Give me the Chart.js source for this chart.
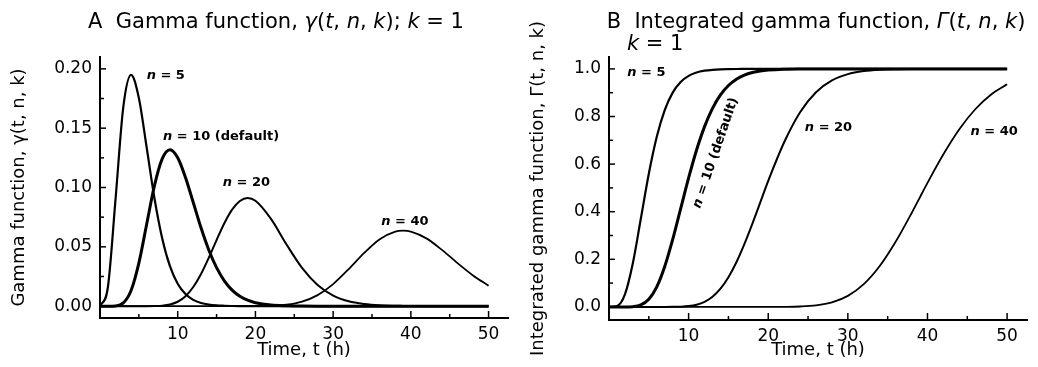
<!DOCTYPE html>
<html>
<head>
<meta charset="utf-8">
<script src="https://cdn.jsdelivr.net/npm/chart.js@4.4.1/dist/chart.umd.min.js"></script>
<style>
  body { margin: 0; background: #fff; }
  #wrap { display: flex; width: 1038px; height: 367px; }
  canvas { display: block; }
</style>
</head>
<body>
<div id="wrap">
  <canvas id="chartA" width="519" height="367"></canvas>
  <canvas id="chartB" width="519" height="367"></canvas>
</div>
<script>
// ---- DATA ----
const tValues = [0, 1, 2, 3, 4, 5, 6, 7, 8, 9, 10, 11, 12, 13, 14, 15, 16, 17, 18, 19, 20,
                 22, 24, 26, 28, 30, 32, 34, 36, 38, 39, 40, 42, 44, 46, 48, 50];

// panel A: gamma function, k = 1
const gammaN5 = [0, 0.0153, 0.0902, 0.168, 0.195, 0.1755, 0.1339, 0.0912, 0.0573, 0.0337, 0.0189,
                 0.0102, 0.0053, 0.0027, 0.0013, 0.0006, 0.0003, 0.0001, 0, 0, 0,
                 0, 0, 0, 0, 0, 0, 0, 0, 0, 0, 0, 0, 0, 0, 0, 0];
const gammaN10 = [0, 0, 0.0002, 0.0027, 0.0132, 0.0363, 0.0688, 0.1014, 0.1241, 0.1318, 0.1251,
                  0.1085, 0.0874, 0.066, 0.0473, 0.0324, 0.0213, 0.0135, 0.0083, 0.005, 0.0029,
                  0.0009, 0.0003, 0.0001, 0, 0, 0, 0, 0, 0, 0, 0, 0, 0, 0, 0, 0];
const gammaN20 = [0, 0, 0, 0, 0, 0, 0, 0.0001, 0.0004, 0.0014, 0.0037,
                  0.0084, 0.0161, 0.0271, 0.0408, 0.0557, 0.0699, 0.0813, 0.0886, 0.0911, 0.0888,
                  0.0735, 0.052, 0.0322, 0.0178, 0.0089, 0.0041, 0.0018, 0.0007, 0.0003, 0.0002, 0.0001,
                  0, 0, 0, 0, 0];
const gammaN40 = [0, 0, 0, 0, 0, 0, 0, 0, 0, 0, 0, 0, 0, 0, 0, 0, 0, 0, 0, 0, 0.0001,
                  0.0003, 0.0012, 0.0038, 0.0093, 0.0186, 0.0312, 0.0449, 0.0564, 0.0629, 0.0636, 0.0629,
                  0.0571, 0.0474, 0.0363, 0.0259, 0.0172];

// panel B: integrated gamma function, k = 1
const cumN5 = [0, 0.0037, 0.0527, 0.1847, 0.3712, 0.5595, 0.7149, 0.827, 0.9004, 0.945, 0.9707,
               0.9849, 0.9924, 0.9963, 0.9982, 0.9991, 0.9996, 0.9998, 1, 1, 1,
               1, 1, 1, 1, 1, 1, 1, 1, 1, 1, 1, 1, 1, 1, 1, 1];
const cumN10 = [0, 0, 0, 0.0011, 0.0081, 0.0318, 0.0839, 0.1695, 0.2834, 0.4126, 0.5421,
                0.6595, 0.7576, 0.8342, 0.8906, 0.9301, 0.9567, 0.9739, 0.9846, 0.9912, 0.995,
                0.9985, 0.9996, 0.9999, 1, 1, 1, 1, 1, 1, 1, 1, 1, 1, 1, 1, 1];
const cumN20 = [0, 0, 0, 0, 0, 0, 0, 0, 0.0003, 0.0011, 0.0035,
                0.0093, 0.0213, 0.0427, 0.0765, 0.1248, 0.1878, 0.2637, 0.3491, 0.4394, 0.5297,
                0.6917, 0.818, 0.9018, 0.9513, 0.9782, 0.9909, 0.9965, 0.9987, 0.9996, 0.9998, 0.9999,
                1, 1, 1, 1, 1];
const cumN40 = [0, 0, 0, 0, 0, 0, 0, 0, 0, 0, 0, 0, 0, 0, 0, 0, 0, 0, 0, 0, 0.0001,
                0.0004, 0.0018, 0.0065, 0.019, 0.0463, 0.0954, 0.1716, 0.2736, 0.3936, 0.4574, 0.521,
                0.6413, 0.7465, 0.8304, 0.8925, 0.9352];

// ---- TICKS ----
const xMajorTicks = [10, 20, 30, 40, 50];
const xMinorTicks = [5, 15, 25, 35, 45];
const gammaTicks = [0, 0.05, 0.10, 0.15, 0.20];
const gammaMinorTicks = [0.025, 0.075, 0.125, 0.175];
const cumTicks = [0, 0.2, 0.4, 0.6, 0.8, 1.0];
const cumMinorTicks = [0.1, 0.3, 0.5, 0.7, 0.9];

const FONT = "'DejaVu Sans', sans-serif";
Chart.defaults.color = "#000";
Chart.defaults.font.family = FONT;

function pts(ys) {
    return tValues.map((t, i) => ({ x: t, y: ys[i] }));
}

// text with italic pieces, parts = [[text, italic], ...]
function drawRich(ctx, parts, x, y, size, align, weight) {
    const fonts = parts.map(p => (p[1] ? "italic " : "") + (weight || "normal") + " " + size + "px " + FONT);
    const widths = parts.map((p, i) => { ctx.font = fonts[i]; return ctx.measureText(p[0]).width; });
    const total = widths.reduce((a, b) => a + b, 0);
    let cx = align === "center" ? x - total / 2 : x;
    ctx.textAlign = "left";
    ctx.textBaseline = "middle";
    ctx.fillStyle = "#000";
    parts.forEach((p, i) => {
        ctx.font = fonts[i];
        ctx.fillText(p[0], cx, y);
        cx += widths[i];
    });
}

// ticks point into the plot, like the printed figure
const innerTicks = {
    id: "innerTicks",
    afterDatasetsDraw(chart, args, opts) {
        const { ctx, scales: { x, y } } = chart;
        ctx.save();
        ctx.strokeStyle = "#000";
        ctx.lineWidth = 1.5;
        const line = (x1, y1, x2, y2) => { ctx.beginPath(); ctx.moveTo(x1, y1); ctx.lineTo(x2, y2); ctx.stroke(); };
        xMajorTicks.forEach(v => { const px = x.getPixelForValue(v); line(px, y.bottom, px, y.bottom - 7); });
        xMinorTicks.forEach(v => { const px = x.getPixelForValue(v); line(px, y.bottom, px, y.bottom - 4); });
        opts.major.forEach(v => { const py = y.getPixelForValue(v); line(x.left, py, x.left + 6, py); });
        opts.minor.forEach(v => { const py = y.getPixelForValue(v); line(x.left, py, x.left + 4, py); });
        ctx.restore();
    }
};

// titles and curve labels
const panelText = {
    id: "panelText",
    afterDraw(chart, args, opts) {
        const { ctx, scales: { x, y } } = chart;
        ctx.save();
        opts.titles.forEach(tt => drawRich(ctx, tt.parts, tt.x, tt.y, tt.size, tt.align));
        opts.labels.forEach(lb => {
            const px = x.getPixelForValue(lb.t), py = y.getPixelForValue(lb.v);
            const parts = [["n", true], [lb.text, false]];
            if (lb.rotate) {
                ctx.save();
                ctx.translate(px, py);
                ctx.rotate(lb.rotate * Math.PI / 180);
                drawRich(ctx, parts, 0, 0, 13, "center", "bold");
                ctx.restore();
            } else {
                drawRich(ctx, parts, px, py, 13, "left", "bold");
            }
        });
        ctx.restore();
    }
};

function makePanel(id, series, yTicks, yMinor, yMin, yMax, decimals, yTitle, yWidth, xHeight, texts) {
    const widths = [2.2, 3, 2, 1.8];
    return new Chart(document.getElementById(id), {
        type: "line",
        data: {
            datasets: series.map((s, i) => ({
                data: pts(s),
                borderColor: "#000",
                borderWidth: widths[i],
                pointRadius: 0,
                cubicInterpolationMode: "monotone",
                fill: false
            }))
        },
        options: {
            responsive: false,
            animation: false,
            layout: { padding: { top: 57, right: 11, left: 0, bottom: 0 } },
            plugins: {
                legend: { display: false },
                tooltip: { enabled: false },
                innerTicks: { major: yTicks, minor: yMinor },
                panelText: texts
            },
            scales: {
                x: {
                    type: "linear",
                    min: 0, max: 52.5,
                    afterBuildTicks: s => { s.ticks = xMajorTicks.map(v => ({ value: v })); },
                    afterFit: s => { s.height = xHeight; },
                    grid: { display: false, drawTicks: false },
                    border: { display: true, width: 2, color: "#000" },
                    ticks: { padding: 6, font: { size: 17 }, maxRotation: 0 },
                    title: { display: true, text: "Time, t (h)", font: { size: 18 }, padding: { top: 0, bottom: 6 } }
                },
                y: {
                    min: yMin, max: yMax,
                    afterBuildTicks: s => { s.ticks = yTicks.map(v => ({ value: v })); },
                    afterFit: s => { s.width = yWidth; },
                    grid: { display: false, drawTicks: false },
                    border: { display: true, width: 2, color: "#000" },
                    ticks: { padding: 8, font: { size: 17 }, callback: v => v.toFixed(decimals) },
                    title: { display: true, text: yTitle, font: { size: 18 }, padding: { top: 9, bottom: 0 } }
                }
            }
        },
        plugins: [innerTicks, panelText]
    });
}

makePanel("chartA", [gammaN5, gammaN10, gammaN20, gammaN40], gammaTicks, gammaMinorTicks,
    -0.01, 0.21, 2, "Gamma function, γ(t, n, k)", 100, 49, {
    titles: [
        { parts: [["A  Gamma function, ", false], ["γ", true], ["(", false], ["t", true], [", ", false], ["n", true],
                  [", ", false], ["k", true], ["); ", false], ["k", true], [" = 1", false]], x: 276, y: 23, size: 21, align: "center" }
    ],
    labels: [
        { t: 6.0, v: 0.194, text: " = 5" },
        { t: 8.1, v: 0.1426, text: " = 10 (default)" },
        { t: 15.8, v: 0.1038, text: " = 20" },
        { t: 36.2, v: 0.0709, text: " = 40" }
    ]
});

makePanel("chartB", [cumN5, cumN10, cumN20, cumN40], cumTicks, cumMinorTicks,
    -0.055, 1.05, 1, "Integrated gamma function, Γ(t, n, k)", 90, 47, {
    titles: [
        { parts: [["B  Integrated gamma function, ", false], ["Γ", true], ["(", false], ["t", true], [", ", false],
                  ["n", true], [", ", false], ["k", true], [")", false]], x: 297, y: 23, size: 21, align: "center" },
        { parts: [["k", true], [" = 1", false]], x: 108, y: 45, size: 21, align: "left" }
    ],
    labels: [
        { t: 2.3, v: 0.983, text: " = 5" },
        { t: 13.4, v: 0.647, text: " = 10 (default)", rotate: -71 },
        { t: 24.6, v: 0.752, text: " = 20" },
        { t: 45.4, v: 0.735, text: " = 40" }
    ]
});
</script>
</body>
</html>
